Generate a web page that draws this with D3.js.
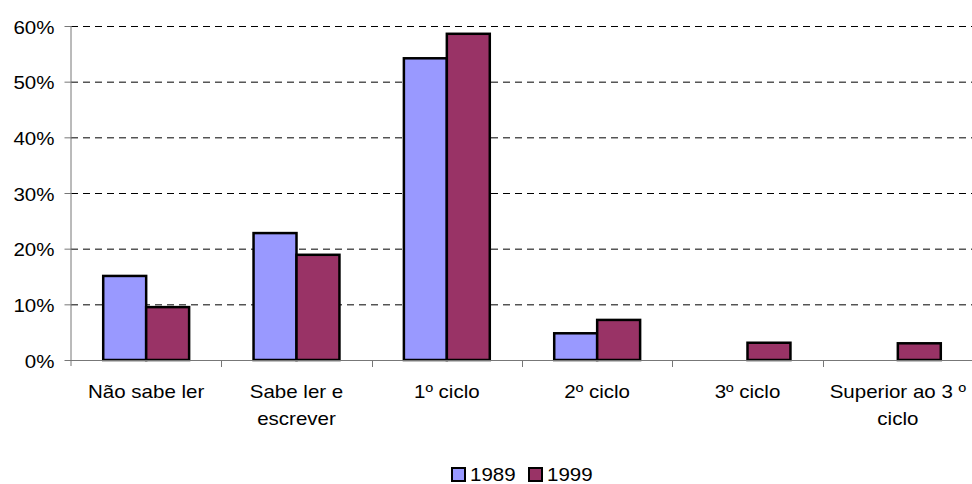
<!DOCTYPE html>
<html><head><meta charset="utf-8">
<script src="https://cdn.jsdelivr.net/npm/d3@7"></script>
<style>body{margin:0;background:#fff}svg{display:block}text{font-family:"Liberation Sans",Arial,sans-serif;fill:#000}</style>
</head><body>
<svg id="c" width="972" height="484"></svg>
<script>
const categories = ["Não sabe ler", "Sabe ler e escrever", "1º ciclo", "2º ciclo", "3º ciclo", "Superior ao 3 º ciclo"];
const seriesNames = ["1989", "1999"];
const values1989 = [0.151, 0.228, 0.542, 0.048, null, null];
const values1999 = [0.095, 0.189, 0.586, 0.072, 0.031, 0.030];
const yTicks = [0, 0.1, 0.2, 0.3, 0.4, 0.5, 0.6];
const colors = ["#9999FF", "#993366"];

const SX = 1.14, FS = 18;
const svg = d3.select("#c");
const L = 71, R = 973, T = 26, B = 360;
const x = d3.scaleBand().domain(categories).range([L, R]).padding(0);
const y = d3.scaleLinear().domain([0, 0.6]).range([B, T]);
const bw = x.bandwidth() / 3.5;
const x1 = d3.scaleBand().domain(seriesNames).range([bw * 0.75, bw * 2.75]).padding(0);
const data = [values1989, values1999];

// gridlines
svg.append("g").selectAll("line").data(yTicks.filter(d => d > 0)).join("line")
  .attr("x1", L).attr("x2", R).attr("y1", d => y(d) + 0.5).attr("y2", d => y(d) + 0.5)
  .attr("stroke", "#000").attr("stroke-dasharray", "7,5").attr("stroke-width", 1);

// bars
seriesNames.forEach((s, si) => {
  svg.append("g").selectAll("rect")
    .data(categories.map((c, i) => ({c, v: data[si][i]})).filter(d => d.v != null))
    .join("rect")
    .attr("x", d => x(d.c) + x1(s))
    .attr("y", d => y(d.v))
    .attr("width", x1.bandwidth())
    .attr("height", d => B - y(d.v))
    .attr("fill", colors[si]).attr("stroke", "#000").attr("stroke-width", 2.5);
});

// y axis
const yAxis = svg.append("g").attr("transform", `translate(${L + 0.5},0)`)
  .call(d3.axisLeft(y).tickValues(yTicks).tickSize(7).tickPadding(5).tickFormat(d3.format(".0%")));
yAxis.select(".domain").attr("stroke", "#777").attr("d", `M-0.5,${T}V${B + 6}`);
yAxis.selectAll(".tick line").attr("stroke", "#777");
yAxis.selectAll(".tick text").attr("font-size", FS).attr("x", null).attr("dy", null)
  .attr("dominant-baseline", "central")
  .attr("transform", `translate(-17,1) scale(${SX},1)`);

// x axis line
svg.append("line").attr("x1", L).attr("x2", R).attr("y1", B + 0.5).attr("y2", B + 0.5).attr("stroke", "#777");
svg.append("g").selectAll("line").data(categories.slice(1)).join("line")
  .attr("x1", d => Math.round(x(d)) + 0.5).attr("x2", d => Math.round(x(d)) + 0.5)
  .attr("y1", B).attr("y2", B + 7).attr("stroke", "#777");

// x labels with wrapping
const lg = svg.append("g");
categories.forEach(c => {
  const cx = x(c) + x.bandwidth() / 2;
  const words = c.split(" ");
  const lines = [];
  let cur = [];
  const t = lg.append("text").attr("font-size", FS);
  words.forEach(w => {
    const test = cur.concat([w]).join(" ");
    t.text(test);
    if (t.node().getComputedTextLength() * SX > x.bandwidth() - 4 && cur.length) {
      lines.push(cur.join(" ")); cur = [w];
    } else cur.push(w);
  });
  lines.push(cur.join(" "));
  t.remove();
  lines.forEach((ln, i) => {
    lg.append("text").attr("font-size", FS).attr("text-anchor", "middle")
      .attr("transform", `translate(${cx},${398 + i * 27}) scale(${SX},1)`).text(ln);
  });
});

// legend
const leg = svg.append("g");
const legX = [452, 529];
seriesNames.forEach((s, i) => {
  leg.append("rect").attr("x", legX[i]).attr("y", 468).attr("width", 13).attr("height", 13)
    .attr("fill", colors[i]).attr("stroke", "#000").attr("stroke-width", 2);
  leg.append("text").attr("font-size", FS)
    .attr("transform", `translate(${legX[i] + 18},481) scale(${SX},1)`).text(s);
});
</script>
</body></html>
